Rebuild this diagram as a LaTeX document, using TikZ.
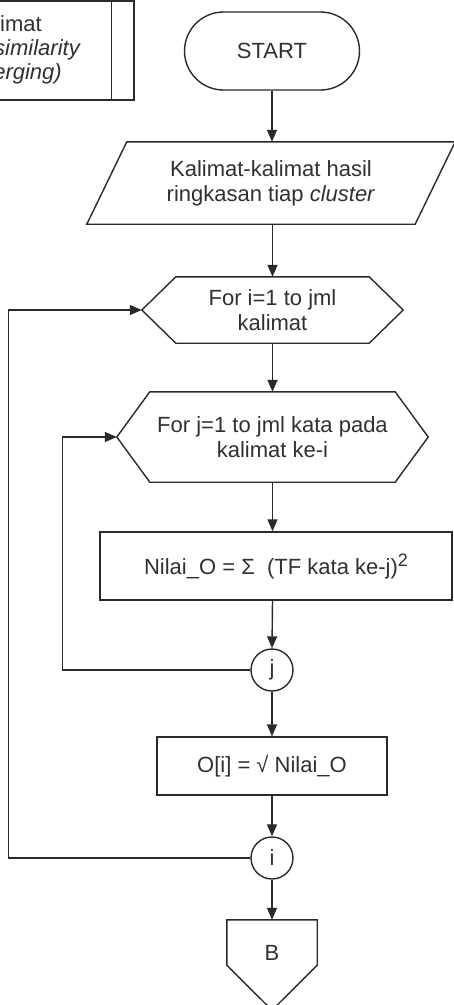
\documentclass[tikz,border=0pt]{standalone}
\usepackage{fontspec}
\setmainfont{Liberation Sans}
\usetikzlibrary{arrows.meta,calc,shapes.misc}
\definecolor{linegray}{HTML}{2A2A2A}
\definecolor{txtgray}{HTML}{303030}
\begin{document}
\begin{tikzpicture}[x=1pt,y=-1pt,
  line/.style={draw=linegray,line width=1.4pt},
  arr/.style={draw=linegray,line width=1.4pt,-{Triangle[length=12pt,width=10pt]}},
  lbl/.style={font=\fontsize{22}{25}\selectfont,text=txtgray,align=center,inner sep=0pt},
  ilbl/.style={lbl,font=\fontsize{22}{25}\selectfont\itshape}]
\useasboundingbox (0,0) rectangle (454,1005);
\clip (0,0) rectangle (454,1005);

% predefined process box, partly outside the page
\node[line,rectangle,minimum width=254pt,minimum height=99pt,inner sep=0pt] (pre) at (7,50.5) {};
\draw[line] ($(pre.north east)+(-23,0)$) -- ($(pre.south east)+(-23,0)$);
\node[lbl,anchor=base east] (t1) at (42,31) {imat};
\node[ilbl,anchor=base east] (t2) at (80,55) {similarity};
\node[ilbl,anchor=base east] (t3) at (62,79) {erging)};

% terminal
\node[lbl,line,rounded rectangle,minimum width=175pt,minimum height=78pt] (start) at (272,51) {START};

% input / output
\node[lbl,minimum width=288pt,minimum height=82pt] (io) at (271,183)
  {Kalimat-kalimat hasil\\ringkasan tiap \textit{cluster}};
\draw[line] (io.north west) -- ($(io.north east)+(40,0)$) -- (io.south east)
  -- ($(io.south west)+(-40,0)$) -- cycle;

% outer loop
\node[lbl,minimum width=261pt,minimum height=66pt] (h1) at (272.5,310) {For i=1 to jml\\kalimat};
\draw[line] (h1.west) -- ($(h1.north west)+(34,0)$) -- ($(h1.north east)+(-34,0)$) -- (h1.east)
  -- ($(h1.south east)+(-34,0)$) -- ($(h1.south west)+(34,0)$) -- cycle;

% inner loop
\node[lbl,minimum width=311pt,minimum height=90pt] (h2) at (272.5,437) {For j=1 to jml kata pada\\kalimat ke-i};
\draw[line] (h2.west) -- ($(h2.north west)+(33,0)$) -- ($(h2.north east)+(-33,0)$) -- (h2.east)
  -- ($(h2.south east)+(-33,0)$) -- ($(h2.south west)+(33,0)$) -- cycle;

% processes
\node[lbl,line,minimum width=352pt,minimum height=68pt] (r1) at (276,566)
  {Nilai\_O = Σ~~(TF kata ke-j)\raisebox{8pt}{\fontsize{18}{18}\selectfont 2}};
\node[lbl,line,circle,minimum size=42pt] (cj) at (272,670) {j};
\node[lbl,line,minimum width=230pt,minimum height=58pt] (r2) at (272,766) {O[i] = √ Nilai\_O};
\node[lbl,line,circle,minimum size=42pt] (ci) at (272,858) {i};

% off-page connector
\node[lbl,minimum width=90pt,minimum height=45pt,text height=35pt,text depth=0pt] (ob) at (272,942.5) {B};
\draw[line] (ob.south west) -- (ob.north west) -- (ob.north east) -- (ob.south east)
  -- ($(ob.south)+(0,45)$) -- cycle;

% connectors
\draw[arr] (start.south) -- (start.south |- io.north);
\draw[arr] (h1.north |- io.south) -- (h1.north);
\draw[arr] (h1.south) -- (h2.north);
\draw[arr] (h2.south) -- (h2.south |- r1.north);
\draw[arr] (h2.south |- r1.south) -- (cj.north);
\draw[arr] (cj.south) -- (r2.north);
\draw[arr] (r2.south) -- (ci.north);
\draw[arr] (ci.south) -- (ob.north);
\draw[arr] (cj.west) -- ++(-188,0) |- (h2.west);
\draw[arr] (ci.west) -- ++(-242,0) |- (h1.west);
\end{tikzpicture}
\end{document}
